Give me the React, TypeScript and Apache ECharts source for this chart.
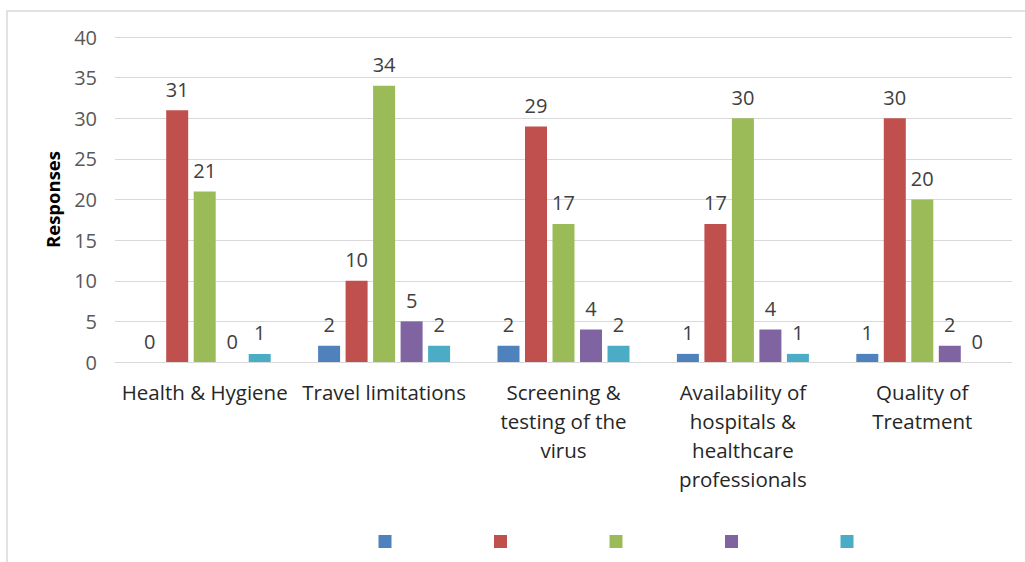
import React, { useEffect, useRef } from "react";
import * as echarts from "echarts";

const categories = [
  "Health & Hygiene",
  "Travel limitations",
  "Screening &\ntesting of the\nvirus",
  "Availability of\nhospitals &\nhealthcare\nprofessionals",
  "Quality of\nTreatment",
];
const seriesNames = ["S1", "S2", "S3", "S4", "S5"];
const seriesColors = ["#4F81BD", "#C0504D", "#9BBB59", "#8064A2", "#4BACC6"];
const s1 = [0, 2, 2, 1, 1];
const s2 = [31, 10, 29, 17, 30];
const s3 = [21, 34, 17, 30, 20];
const s4 = [0, 5, 4, 4, 2];
const s5 = [1, 2, 2, 1, 0];
const seriesValues = [s1, s2, s3, s4, s5];
const yTicks = { min: 0, max: 40, interval: 5 };

const FONT = "'Open Sans', Lato, sans-serif";

export default function App() {
  const ref = useRef<HTMLDivElement>(null);
  useEffect(() => {
    if (!ref.current) return;
    const chart = echarts.init(ref.current, undefined, { renderer: "svg" });
    chart.setOption({
      animation: false,
      backgroundColor: "#ffffff",
      textStyle: { fontFamily: FONT },
      graphic: [
        {
          type: "rect",
          shape: { x: 7, y: 11, width: 1040, height: 600 },
          style: { fill: "none", stroke: "#d9d9d9", lineWidth: 1.5 },
          silent: true,
        },
      ],
      grid: { left: 115, right: 13, top: 37, bottom: 200, containLabel: false },
      legend: {
        bottom: 14,
        left: 378.5,
        padding: 0,
        itemWidth: 13,
        itemHeight: 13,
        itemGap: 102.5,
        icon: "rect",
        formatter: () => "",
        data: seriesNames,
        selectedMode: false,
      },
      xAxis: {
        type: "category",
        data: categories,
        axisTick: { show: false },
        axisLine: { lineStyle: { color: "#d9d9d9", width: 1 } },
        axisLabel: {
          color: "#262626",
          fontSize: 20.5,
          lineHeight: 29,
          margin: 15,
          interval: 0,
          fontFamily: FONT,
        },
      },
      yAxis: {
        type: "value",
        min: yTicks.min,
        max: yTicks.max,
        interval: yTicks.interval,
        name: "Responses",
        nameLocation: "middle",
        nameGap: 53,
        nameTextStyle: { color: "#000000", fontSize: 18.5, fontWeight: "bold", fontFamily: FONT },
        axisLine: { show: false },
        axisTick: { show: false },
        axisLabel: { color: "#595959", fontSize: 20, margin: 18, fontFamily: FONT },
        splitLine: { lineStyle: { color: "#d9d9d9", width: 1 } },
      },
      series: seriesValues.map((vals, i) => ({
        name: seriesNames[i],
        type: "bar",
        data: vals,
        barWidth: 22,
        barGap: "25%",
        itemStyle: { color: seriesColors[i] },
        label: {
          show: true,
          position: "top",
          distance: 11,
          color: "#404040",
          fontSize: 20,
          fontFamily: FONT,
        },
      })),
    });
    return () => chart.dispose();
  }, []);
  return (
    <div
      ref={ref}
      style={{ position: "absolute", left: 0, top: 0, width: 1025, height: 562 }}
    />
  );
}
